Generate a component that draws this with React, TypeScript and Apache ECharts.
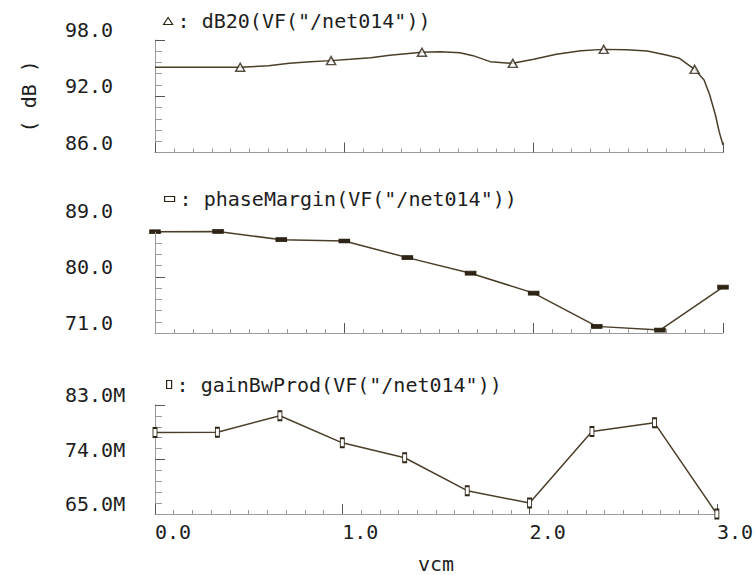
import React, { useEffect, useRef } from 'react';
import * as echarts from 'echarts';

// ---------- data ----------
const xMin = 0;
const xMax = 3;
const xLabelValues = [0, 1, 2, 3];

// dB20(VF("/net014")) — dense curve
const dbX = [0, 0.25, 0.45, 0.6, 0.71, 0.82, 0.93, 1.03, 1.14, 1.24, 1.41, 1.51, 1.61, 1.68, 1.77, 1.89, 2.0, 2.12, 2.25, 2.37, 2.49, 2.6, 2.7, 2.77, 2.85, 2.9, 2.93, 2.96, 2.98, 3.0];
const dbY = [95.09, 95.09, 95.09, 95.26, 95.51, 95.69, 95.8, 95.94, 96.1, 96.37, 96.69, 96.75, 96.65, 96.33, 95.69, 95.51, 95.94, 96.47, 96.86, 97.0, 96.97, 96.83, 96.4, 96.05, 94.87, 93.73, 92.13, 90.0, 88.2, 86.8];
// marker positions on that curve
const dbMarkX = [0.45, 0.93, 1.41, 1.89, 2.37, 2.85];
const dbMarkY = [95.09, 95.8, 96.69, 95.51, 97.0, 94.87];

// sweep points for phaseMargin and gainBwProd
const vcm = [0, 0.333, 0.667, 1.0, 1.333, 1.667, 2.0, 2.333, 2.667, 3.0];
const phaseMargin = [87.2, 87.25, 85.93, 85.72, 83.06, 80.57, 77.38, 72.06, 71.47, 78.33];
const gainBwProd = [78.46, 78.5, 81.23, 76.75, 74.29, 68.85, 66.81, 78.62, 80.06, 65.0]; // in M

// axes
const dbRange = [86, 98];
const dbLabels = [86, 92, 98];
const dbMinorTicks = [86, 87.2, 88.4, 89.6, 90.8, 93.2, 94.4, 95.6, 96.8];
const dbMajorTicks = [92, 98];

const pmRange = [71, 89];
const pmLabels = [71, 80, 89];
const pmMinorTicks = [71, 72.8, 74.6, 76.4, 78.2, 81.8, 83.6, 85.4, 87.2];
const pmMajorTicks = [80];
const pmAxisTop = 87.2;

const gbRange = [65, 83];
const gbLabels = [65, 74, 83];
const gbMinorTicks = [65, 66.8, 68.6, 70.4, 72.2, 75.8, 77.6, 79.4, 81.2];
const gbMajorTicks = [74, 83];

const names = ['dB20(VF("/net014"))', 'phaseMargin(VF("/net014"))', 'gainBwProd(VF("/net014"))'];

// ---------- style ----------
const FONT = '"DejaVu Sans Mono", monospace';
const FS = 20;
const LINE = '#4a3e2a';
const MARK = '#2e2416';
const AXIS = '#9a9a9a';
const MAJOR = '#555555';
const TEXT = '#1e1e1e';

const gridTops = [40, 220.5, 405];
const gridH = 112.5;

function App() {
  const ref = useRef<HTMLDivElement>(null);

  useEffect(() => {
    if (!ref.current) return;
    const chart = echarts.init(ref.current, null, { renderer: 'svg' });

    const ranges = [dbRange, pmRange, gbRange];
    const labels = [dbLabels, pmLabels, gbLabels];
    const minors = [dbMinorTicks, pmMinorTicks, gbMinorTicks];
    const majors = [dbMajorTicks, pmMajorTicks, gbMajorTicks];
    const fmts = [
      (v: number) => v.toFixed(1),
      (v: number) => v.toFixed(1),
      (v: number) => v.toFixed(1) + 'M',
    ];

    const grid = gridTops.map((t) => ({ left: 155, right: 33, top: t, height: gridH }));

    const xAxis: any[] = [];
    const yAxis: any[] = [];
    for (let i = 0; i < 3; i++) {
      xAxis.push({
        gridIndex: i, type: 'value', min: xMin, max: xMax, interval: 0.1, position: 'bottom',
        axisLine: { show: true, lineStyle: { color: AXIS, width: 1 } },
        axisTick: { show: true, inside: true, length: 4, lineStyle: { color: AXIS } },
        axisLabel: { show: false }, splitLine: { show: false },
      });
      xAxis.push({
        gridIndex: i, type: 'value', min: xMin, max: xMax, interval: 1, position: 'bottom',
        axisLine: { show: false },
        axisTick: { show: true, inside: true, length: 10, lineStyle: { color: MAJOR } },
        axisLabel: i === 2 ? {
          show: true, customValues: xLabelValues, align: 'left', margin: 8,
          formatter: (v: number) => v.toFixed(1),
          fontFamily: FONT, fontSize: FS, color: TEXT,
        } : { show: false },
        splitLine: { show: false },
        name: i === 2 ? 'vcm' : '',
        nameLocation: 'middle', nameGap: 50,
        nameTextStyle: { fontFamily: FONT, fontSize: FS, color: TEXT, verticalAlign: 'middle' },
      });
      yAxis.push({
        gridIndex: i, type: 'value', min: ranges[i][0], max: ranges[i][1], position: 'left',
        axisLine: { show: i !== 1, lineStyle: { color: AXIS, width: 1 } },
        axisTick: { show: true, inside: true, length: 7, customValues: minors[i], lineStyle: { color: AXIS } },
        axisLabel: {
          show: true, customValues: labels[i], align: 'left', margin: 90, verticalAlign: 'bottom',
          formatter: fmts[i], fontFamily: FONT, fontSize: FS, color: TEXT,
        },
        splitLine: { show: false },
        name: i === 0 ? '( dB )' : '',
        nameLocation: 'middle', nameRotate: 90, nameGap: 126,
        nameTextStyle: { fontFamily: FONT, fontSize: FS, color: TEXT, verticalAlign: 'middle' },
      });
      yAxis.push({
        gridIndex: i, type: 'value', min: ranges[i][0], max: ranges[i][1], position: 'left',
        axisLine: { show: false },
        axisTick: { show: true, inside: true, length: 10, customValues: majors[i], lineStyle: { color: MAJOR } },
        axisLabel: { show: false }, splitLine: { show: false },
      });
    }

    const legendBase = {
      orient: 'horizontal', padding: 0, selectedMode: false,
      formatter: ': {name}',
      textStyle: { fontFamily: FONT, fontSize: FS, color: TEXT },
    };

    const option: any = {
      animation: false,
      backgroundColor: '#ffffff',
      grid,
      xAxis,
      yAxis,
      legend: [
        { ...legendBase, data: [names[0]], left: 163, top: 11, icon: 'triangle', itemWidth: 9, itemHeight: 7,
          itemStyle: { color: '#fff', borderColor: MARK, borderWidth: 1.2 } },
        { ...legendBase, data: [names[1]], left: 164, top: 189, icon: 'rect', itemWidth: 10, itemHeight: 5,
          itemStyle: { color: '#fff', borderColor: MARK, borderWidth: 1.2 } },
        { ...legendBase, data: [names[2]], left: 166, top: 374.5, icon: 'rect', itemWidth: 5, itemHeight: 8,
          itemStyle: { color: '#fff', borderColor: MARK, borderWidth: 1.2 } },
      ],
      series: [
        {
          type: 'line', name: names[0], xAxisIndex: 0, yAxisIndex: 0,
          data: dbX.map((x, k) => [x, dbY[k]]),
          showSymbol: false, symbol: 'none', clip: false,
          lineStyle: { color: LINE, width: 1.5 },
          itemStyle: { color: '#fff', borderColor: MARK },
        },
        {
          type: 'scatter', name: names[0], xAxisIndex: 0, yAxisIndex: 0,
          data: dbMarkX.map((x, k) => [x, dbMarkY[k]]),
          symbol: 'triangle', symbolSize: [9, 8], clip: false,
          itemStyle: { color: '#fff', borderColor: MARK, borderWidth: 1.5 },
          z: 3,
        },
        {
          type: 'line', name: names[1], xAxisIndex: 2, yAxisIndex: 2,
          data: vcm.map((x, k) => [x, phaseMargin[k]]),
          symbol: 'rect', symbolSize: [10, 4], showSymbol: true, clip: false,
          lineStyle: { color: LINE, width: 1.5 },
          itemStyle: { color: MARK, borderColor: MARK, borderWidth: 1 },
          markLine: {
            silent: true, symbol: ['none', 'none'], label: { show: false },
            lineStyle: { color: AXIS, type: 'solid', width: 1 },
            emphasis: { disabled: true },
            data: [[{ coord: [xMin, pmRange[0]] }, { coord: [xMin, pmAxisTop] }]],
          },
        },
        {
          type: 'line', name: names[2], xAxisIndex: 4, yAxisIndex: 4,
          data: vcm.map((x, k) => [x, gainBwProd[k]]),
          symbol: 'rect', symbolSize: [4, 9], showSymbol: true, clip: false,
          lineStyle: { color: LINE, width: 1.5 },
          itemStyle: { color: '#fff', borderColor: MARK, borderWidth: 1.3 },
        },
      ],
    };

    chart.setOption(option);
    return () => chart.dispose();
  }, []);

  return (
    <div
      ref={ref}
      style={{ position: 'fixed', left: 0, top: 0, width: 756, height: 575, background: '#fff' }}
    />
  );
}

export default App;
